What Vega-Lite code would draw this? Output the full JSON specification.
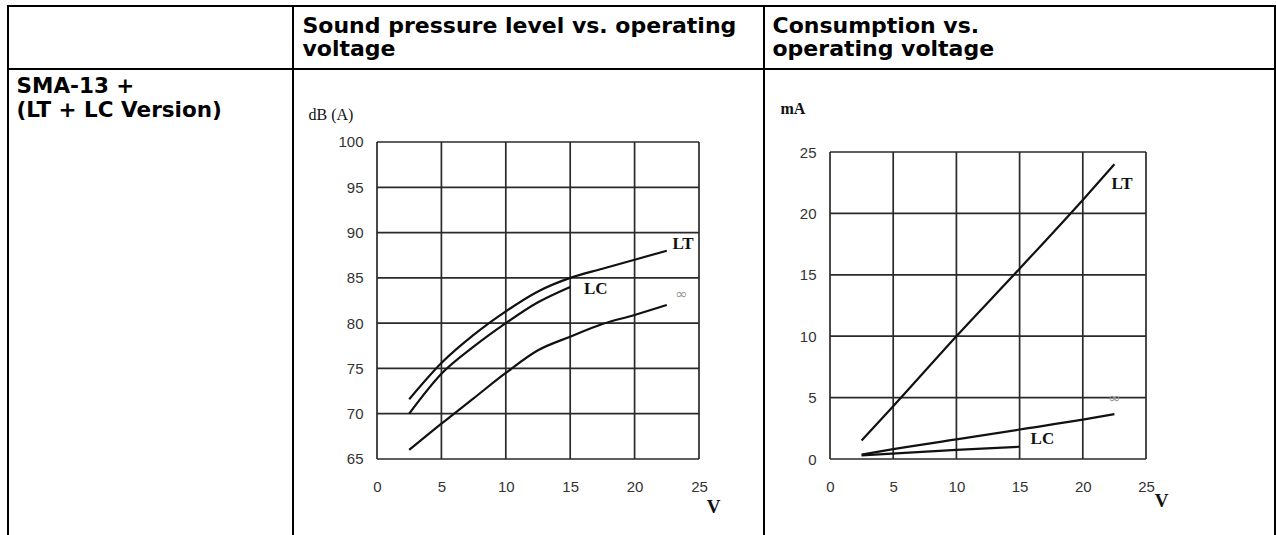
{
  "$schema": "https://vega.github.io/schema/vega-lite/v6.json",
  "background": "white",
  "padding": {"left": 7, "top": 5, "right": 0, "bottom": -3},
  "spacing": 0,
  "bounds": "flush",
  "columns": 3,
  "datasets": {
    "spl": [
      {"series": "LT", "voltage": 2.5, "dB": 71.6},
      {"series": "LT", "voltage": 5, "dB": 75.6},
      {"series": "LT", "voltage": 7.5, "dB": 78.7},
      {"series": "LT", "voltage": 10, "dB": 81.3},
      {"series": "LT", "voltage": 12.5, "dB": 83.5},
      {"series": "LT", "voltage": 15, "dB": 85.0},
      {"series": "LT", "voltage": 17.5, "dB": 86.0},
      {"series": "LT", "voltage": 20, "dB": 87.0},
      {"series": "LT", "voltage": 22.5, "dB": 88.0},
      {"series": "LC", "voltage": 2.5, "dB": 70.0},
      {"series": "LC", "voltage": 5, "dB": 74.4},
      {"series": "LC", "voltage": 7.5, "dB": 77.4},
      {"series": "LC", "voltage": 10, "dB": 80.0},
      {"series": "LC", "voltage": 12.5, "dB": 82.3},
      {"series": "LC", "voltage": 15, "dB": 84.0},
      {"series": "∞", "voltage": 2.5, "dB": 66.0},
      {"series": "∞", "voltage": 5, "dB": 68.9},
      {"series": "∞", "voltage": 7.5, "dB": 71.7},
      {"series": "∞", "voltage": 10, "dB": 74.5},
      {"series": "∞", "voltage": 12.5, "dB": 77.0},
      {"series": "∞", "voltage": 15, "dB": 78.5},
      {"series": "∞", "voltage": 17.5, "dB": 79.9},
      {"series": "∞", "voltage": 20, "dB": 80.9},
      {"series": "∞", "voltage": 22.5, "dB": 82.0}
    ],
    "current": [
      {"series": "LT", "voltage": 2.5, "mA": 1.5},
      {"series": "LT", "voltage": 5, "mA": 4.3},
      {"series": "LT", "voltage": 10, "mA": 10.0},
      {"series": "LT", "voltage": 15, "mA": 15.5},
      {"series": "LT", "voltage": 20, "mA": 21.1},
      {"series": "LT", "voltage": 22.5, "mA": 24.0},
      {"series": "∞", "voltage": 2.5, "mA": 0.35},
      {"series": "∞", "voltage": 5, "mA": 0.8},
      {"series": "∞", "voltage": 10, "mA": 1.6},
      {"series": "∞", "voltage": 15, "mA": 2.4},
      {"series": "∞", "voltage": 20, "mA": 3.2},
      {"series": "∞", "voltage": 22.5, "mA": 3.65},
      {"series": "LC", "voltage": 2.5, "mA": 0.3},
      {"series": "LC", "voltage": 10, "mA": 0.75},
      {"series": "LC", "voltage": 15, "mA": 1.0}
    ],
    "spl_labels": [
      {"series": "LT", "voltage": 23.76, "dB": 88.7},
      {"series": "LC", "voltage": 16.98, "dB": 83.8},
      {"series": "∞", "voltage": 23.64, "dB": 83.2}
    ],
    "current_labels": [
      {"series": "LT", "voltage": 23.1, "mA": 22.4},
      {"series": "LC", "voltage": 16.8, "mA": 1.6},
      {"series": "∞", "voltage": 22.5, "mA": 5.0}
    ],
    "grid_v": [{"v": 0}, {"v": 5}, {"v": 10}, {"v": 15}, {"v": 20}, {"v": 25}],
    "grid_db": [{"v": 65}, {"v": 70}, {"v": 75}, {"v": 80}, {"v": 85}, {"v": 90}, {"v": 95}, {"v": 100}],
    "grid_ma": [{"v": 0}, {"v": 5}, {"v": 10}, {"v": 15}, {"v": 20}, {"v": 25}],
    "cell": [{"v": 0}]
  },
  "concat": [
    {"width": 285, "height": 63, "data": {"name": "cell"}, "mark": {"type": "point", "opacity": 0},
     "encoding": {"x": {"field": "v", "type": "quantitative", "axis": null}, "y": {"field": "v", "type": "quantitative", "axis": null}}},
    {"width": 471, "height": 63, "data": {"name": "cell"}, "mark": {"type": "point", "opacity": 0},
     "encoding": {
       "x": {"field": "v", "type": "quantitative",
             "axis": {"orient": "top", "labels": false, "offset": 0, "title": ["Sound pressure level vs. operating", "voltage"],
                      "titleX": 9, "titleY": 9, "titleLineHeight": 23}},
       "y": {"field": "v", "type": "quantitative", "axis": null}}},
    {"width": 511, "height": 63, "data": {"name": "cell"}, "mark": {"type": "point", "opacity": 0},
     "encoding": {
       "x": {"field": "v", "type": "quantitative",
             "axis": {"orient": "top", "labels": false, "offset": 0, "title": ["Consumption vs.", "operating voltage"],
                      "titleX": 8, "titleY": 9, "titleLineHeight": 23}},
       "y": {"field": "v", "type": "quantitative", "axis": null}}},
    {"width": 285, "height": 469, "data": {"name": "cell"}, "mark": {"type": "point", "opacity": 0},
     "encoding": {
       "x": {"field": "v", "type": "quantitative",
             "axis": {"orient": "top", "labels": false, "offset": 0, "title": ["SMA-13 +", "(LT + LC Version)"],
                      "titleX": 8, "titleY": 6, "titleLineHeight": 24, "titleFontSize": 21.5}},
       "y": {"field": "v", "type": "quantitative", "axis": null}}},
    {
      "width": 471, "height": 469,
      "layer": [
        {
          "data": {"name": "grid_v"},
          "mark": {"type": "rule", "stroke": "#2a2a2a", "strokeWidth": 1.7},
          "encoding": {
            "x": {"field": "v", "type": "quantitative"},
            "y": {"datum": 65, "type": "quantitative"},
            "y2": {"datum": 100}
          }
        },
        {
          "data": {"name": "grid_db"},
          "mark": {"type": "rule", "stroke": "#2a2a2a", "strokeWidth": 1.7},
          "encoding": {
            "y": {"field": "v", "type": "quantitative"},
            "x": {"datum": 0, "type": "quantitative"},
            "x2": {"datum": 25}
          }
        },
        {
          "data": {"name": "spl"},
          "mark": {"type": "line", "interpolate": "monotone", "stroke": "#111", "strokeWidth": 2.2},
          "encoding": {
            "x": {"field": "voltage", "type": "quantitative",
                  "scale": {"domain": [-6.522, 30.047], "nice": false, "zero": false},
                  "axis": {"values": [0, 5, 10, 15, 20, 25], "offset": -61, "labelPadding": 2, "labelBaseline": "top",
                           "title": "V", "titleX": 420, "titleY": 29, "titleAlign": "center", "titleBaseline": "middle",
                           "titleFont": "Liberation Serif", "titleFontSize": 19, "titleFontWeight": "bold", "titleColor": "#111"}},
            "y": {"field": "dB", "type": "quantitative",
                  "scale": {"domain": [56.277, 108.06], "nice": false, "zero": false},
                  "axis": {"values": [65, 70, 75, 80, 85, 90, 95, 100], "offset": -70, "labelPadding": 0, "labelAlign": "right", "labelBaseline": "middle",
                           "title": "dB (A)", "titleAngle": 0, "titleX": -55, "titleY": 45, "titleAlign": "left", "titleBaseline": "middle",
                           "titleFont": "Liberation Serif", "titleFontSize": 16, "titleFontWeight": "normal", "titleColor": "#111"}},
            "detail": {"field": "series", "type": "nominal"}
          }
        },
        {
          "data": {"name": "spl_labels"},
          "transform": [{"filter": "datum.series !== '∞'"}],
          "mark": {"type": "text", "font": "Liberation Serif", "fontSize": 17, "fontWeight": "bold", "color": "#111", "align": "center", "baseline": "middle"},
          "encoding": {
            "x": {"field": "voltage", "type": "quantitative"},
            "y": {"field": "dB", "type": "quantitative"},
            "text": {"field": "series"}
          }
        },
        {
          "data": {"name": "spl_labels"},
          "transform": [{"filter": "datum.series === '∞'"}],
          "mark": {"type": "text", "font": "DejaVu Sans", "fontSize": 15, "color": "#999", "align": "center", "baseline": "middle"},
          "encoding": {
            "x": {"field": "voltage", "type": "quantitative"},
            "y": {"field": "dB", "type": "quantitative"},
            "text": {"field": "series"}
          }
        }
      ]
    },
    {
      "width": 511, "height": 469,
      "layer": [
        {
          "data": {"name": "grid_v"},
          "mark": {"type": "rule", "stroke": "#2a2a2a", "strokeWidth": 1.7},
          "encoding": {
            "x": {"field": "v", "type": "quantitative"},
            "y": {"datum": 0, "type": "quantitative"},
            "y2": {"datum": 25}
          }
        },
        {
          "data": {"name": "grid_ma"},
          "mark": {"type": "rule", "stroke": "#2a2a2a", "strokeWidth": 1.7},
          "encoding": {
            "y": {"field": "v", "type": "quantitative"},
            "x": {"datum": 0, "type": "quantitative"},
            "x2": {"datum": 25}
          }
        },
        {
          "data": {"name": "current"},
          "mark": {"type": "line", "interpolate": "monotone", "stroke": "#111", "strokeWidth": 2.2},
          "encoding": {
            "x": {"field": "voltage", "type": "quantitative",
                  "scale": {"domain": [-5.222, 35.206], "nice": false, "zero": false},
                  "axis": {"values": [0, 5, 10, 15, 20, 25], "offset": -61, "labelPadding": 2, "labelBaseline": "top",
                           "title": "V", "titleX": 397, "titleY": 23, "titleAlign": "center", "titleBaseline": "middle",
                           "titleFont": "Liberation Serif", "titleFontSize": 19, "titleFontWeight": "bold", "titleColor": "#111"}},
            "y": {"field": "mA", "type": "quantitative",
                  "scale": {"domain": [-6.433, 31.759], "nice": false, "zero": false},
                  "axis": {"values": [0, 5, 10, 15, 20, 25], "offset": -52, "labelPadding": 0, "labelAlign": "right", "labelBaseline": "middle",
                           "title": "mA", "titleAngle": 0, "titleX": -36, "titleY": 39, "titleAlign": "left", "titleBaseline": "middle",
                           "titleFont": "Liberation Serif", "titleFontSize": 16, "titleFontWeight": "bold", "titleColor": "#111"}},
            "detail": {"field": "series", "type": "nominal"}
          }
        },
        {
          "data": {"name": "current_labels"},
          "transform": [{"filter": "datum.series !== '∞'"}],
          "mark": {"type": "text", "font": "Liberation Serif", "fontSize": 17, "fontWeight": "bold", "color": "#111", "align": "center", "baseline": "middle"},
          "encoding": {
            "x": {"field": "voltage", "type": "quantitative"},
            "y": {"field": "mA", "type": "quantitative"},
            "text": {"field": "series"}
          }
        },
        {
          "data": {"name": "current_labels"},
          "transform": [{"filter": "datum.series === '∞'"}],
          "mark": {"type": "text", "font": "DejaVu Sans", "fontSize": 15, "color": "#999", "align": "center", "baseline": "middle"},
          "encoding": {
            "x": {"field": "voltage", "type": "quantitative"},
            "y": {"field": "mA", "type": "quantitative"},
            "text": {"field": "series"}
          }
        }
      ]
    }
  ],
  "config": {
    "view": {"stroke": "#000", "strokeWidth": 2, "fill": "white"},
    "concat": {"spacing": 0},
    "axis": {
      "domain": false, "ticks": false, "tickSize": 0, "grid": false,
      "labelFont": "Liberation Sans", "labelFontSize": 15, "labelColor": "#333",
      "labelOverlap": false, "labelFlush": false,
      "titleAlign": "left", "titleBaseline": "top", "titleAnchor": "start",
      "titleFont": "DejaVu Sans", "titleFontSize": 22, "titleFontWeight": "bold", "titleColor": "#000"
    }
  }
}
